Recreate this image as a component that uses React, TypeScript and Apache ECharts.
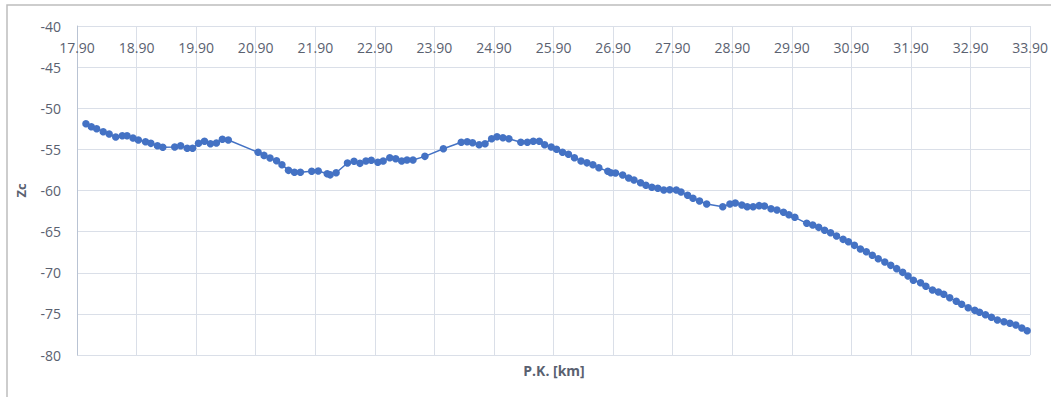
import React, { useEffect, useRef } from "react";
import * as echarts from "echarts";

const pk: number[] = [
  18.05, 18.14, 18.23, 18.34, 18.44, 18.55, 18.66, 18.74, 18.84, 18.93,
  19.05, 19.14, 19.25, 19.34, 19.54, 19.64, 19.75, 19.84, 19.94, 20.04,
  20.14, 20.24, 20.34, 20.44, 20.94, 21.04, 21.14, 21.25, 21.34, 21.45,
  21.55, 21.65, 21.84, 21.95, 22.1, 22.15, 22.25, 22.44, 22.55, 22.65,
  22.75, 22.84, 22.95, 23.04, 23.15, 23.25, 23.35, 23.44, 23.54, 23.74,
  24.05, 24.35, 24.45, 24.54, 24.65, 24.75, 24.86, 24.95, 25.05, 25.15,
  25.35, 25.46, 25.56, 25.66, 25.75, 25.86, 25.95, 26.05, 26.15, 26.25,
  26.36, 26.46, 26.56, 26.66, 26.81, 26.86, 26.94, 27.06, 27.16, 27.25,
  27.36, 27.45, 27.55, 27.65, 27.75, 27.85, 27.96, 28.04, 28.15, 28.24,
  28.35, 28.47, 28.74, 28.86, 28.95, 29.06, 29.15, 29.25, 29.35, 29.44,
  29.55, 29.65, 29.76, 29.85, 29.95, 30.15, 30.25, 30.35, 30.45, 30.55,
  30.65, 30.76, 30.85, 30.95, 31.05, 31.15, 31.25, 31.35, 31.46, 31.56,
  31.66, 31.76, 31.85, 31.94, 32.06, 32.15, 32.26, 32.36, 32.45, 32.55,
  32.66, 32.75, 32.86, 32.97, 33.05, 33.15, 33.25, 33.35, 33.46, 33.56,
  33.66, 33.76, 33.85,
];

const zc: number[] = [
  -51.88, -52.24, -52.49, -52.85, -53.13, -53.5, -53.34, -53.34, -53.62, -53.86,
  -54.07, -54.27, -54.55, -54.75, -54.71, -54.55, -54.87, -54.87, -54.26, -54.02,
  -54.31, -54.22, -53.77, -53.86, -55.36, -55.73, -56.05, -56.38, -56.86, -57.55,
  -57.79, -57.79, -57.67, -57.63, -57.96, -58.1, -57.84, -56.66, -56.45, -56.7,
  -56.41, -56.33, -56.57, -56.41, -56.01, -56.13, -56.41, -56.29, -56.29, -55.85,
  -54.92, -54.14, -54.07, -54.19, -54.43, -54.31, -53.7, -53.46, -53.58, -53.7,
  -54.14, -54.14, -54.02, -54.02, -54.43, -54.71, -54.99, -55.36, -55.6, -56.01,
  -56.41, -56.64, -56.86, -57.23, -57.67, -57.84, -57.88, -58.12, -58.48, -58.72,
  -59.05, -59.37, -59.61, -59.73, -59.94, -59.9, -59.94, -60.18, -60.58, -60.95,
  -61.28, -61.64, -61.97, -61.64, -61.52, -61.76, -61.97, -61.97, -61.84, -61.88,
  -62.21, -62.37, -62.65, -62.94, -63.26, -63.99, -64.19, -64.48, -64.84, -65.13,
  -65.53, -65.94, -66.23, -66.67, -67.11, -67.44, -67.88, -68.29, -68.69, -69.1,
  -69.5, -69.95, -70.4, -70.92, -71.21, -71.65, -72.1, -72.34, -72.62, -73.03,
  -73.47, -73.84, -74.25, -74.57, -74.81, -75.1, -75.42, -75.75, -75.95, -76.15,
  -76.35, -76.72, -77.05,
];

const xTitle = "P.K. [km]";
const yTitle = "Zc";

const FONT = "'Open Sans', 'Noto Sans', sans-serif";
const LABEL_COLOR = "#5a6170";
const GRID_COLOR = "#dadfe8";

export default function App() {
  const ref = useRef<HTMLDivElement>(null);

  useEffect(() => {
    if (!ref.current) return;
    const chart = echarts.init(ref.current, undefined, { renderer: "svg" });
    const data = pk.map((x, i) => [x, zc[i]]);
    chart.setOption({
      animation: false,
      backgroundColor: "#ffffff",
      grid: { left: 77, top: 26, right: 20, bottom: 42, containLabel: false },
      xAxis: {
        type: "value",
        position: "top",
        min: 17.9,
        max: 33.9,
        interval: 1,
        axisLine: { show: false },
        axisTick: { show: false },
        axisLabel: {
          inside: true,
          margin: 14,
          color: LABEL_COLOR,
          fontSize: 14,
          fontFamily: FONT,
          formatter: (v: number) => v.toFixed(2),
          showMinLabel: true,
          showMaxLabel: true,
        },
        splitLine: { show: true, lineStyle: { color: GRID_COLOR, width: 1 } },
      },
      yAxis: {
        type: "value",
        min: -80,
        max: -40,
        interval: 5,
        name: yTitle,
        nameLocation: "middle",
        nameRotate: 90,
        nameGap: 50,
        nameTextStyle: {
          color: LABEL_COLOR,
          fontSize: 13,
          fontWeight: "bold",
          fontFamily: FONT,
        },
        axisLine: { show: true, lineStyle: { color: "#b9c3d3", width: 1 } },
        axisTick: { show: false },
        axisLabel: {
          margin: 16,
          color: LABEL_COLOR,
          fontSize: 14,
          fontFamily: FONT,
        },
        splitLine: { show: true, lineStyle: { color: GRID_COLOR, width: 1 } },
      },
      graphic: [
        {
          type: "rect",
          shape: { x: 7, y: 5, width: 1200, height: 600 },
          style: { fill: "none", stroke: "#bdbdbd", lineWidth: 1.5 },
          silent: true,
        },
        {
          type: "text",
          x: 554,
          y: 370,
          style: {
            text: xTitle,
            align: "center",
            verticalAlign: "middle",
            fill: LABEL_COLOR,
            font: `bold 14px ${FONT}`,
          },
        },
      ],
      series: [
        {
          type: "line",
          data,
          symbol: "circle",
          symbolSize: 7.5,
          itemStyle: { color: "#4472c4" },
          lineStyle: { color: "#4472c4", width: 1.5 },
        },
      ],
    });
    return () => chart.dispose();
  }, []);

  return (
    <div
      ref={ref}
      style={{ position: "fixed", left: 0, top: 0, width: 1051, height: 397 }}
    />
  );
}
